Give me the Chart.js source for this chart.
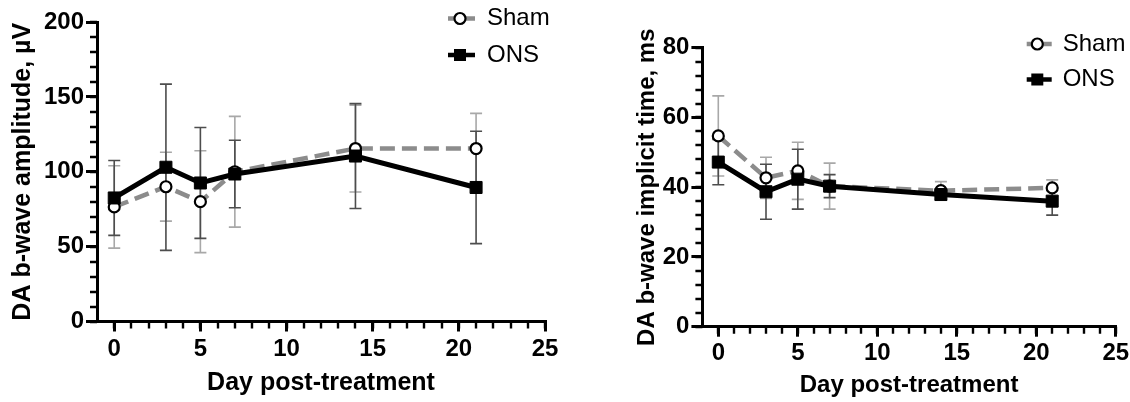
<!DOCTYPE html>
<html>
<head>
<meta charset="utf-8">
<script src="https://cdn.jsdelivr.net/npm/chart.js"></script>
<style>
    html, body { margin: 0; padding: 0; background: #fff; overflow: hidden; }
    #leftWrap { position: absolute; left: 0; top: 0; width: 565px; height: 402px; }
    #rightWrap { position: absolute; left: 565px; top: 0; width: 575px; height: 402px; }
</style>
</head>
<body>
<div id="leftWrap"><canvas id="ampChart" width="565" height="402"></canvas></div>
<div id="rightWrap"><canvas id="timeChart" width="575" height="402"></canvas></div>
<script>
// Days after treatment
const days = [0, 3, 5, 7, 14, 21];
const dayTicks = [0, 5, 10, 15, 20, 25];

// DA b-wave amplitude (uV), mean and SD
const ampSham = [76.5, 90, 80, 100, 115.5, 115.5];
const ampShamErr = [27.5, 23, 34, 37, 29, 23.5];
const ampOns = [82.5, 103, 92.5, 98.5, 110.5, 89.5];
const ampOnsErr = [25, 55.5, 37, 22.5, 35, 37.5];
const ampTicks = [0, 50, 100, 150, 200];

// DA b-wave implicit time (ms), mean and SD
const timeSham = [54.7, 42.7, 44.7, 40.3, 39.0, 39.8];
const timeShamErr = [11.5, 5.9, 8.2, 6.6, 2.6, 2.3];
const timeOns = [47.2, 38.7, 42.3, 40.3, 37.9, 36.0];
const timeOnsErr = [6.5, 7.9, 8.6, 3.3, 1.5, 4.0];
const timeTicks = [0, 20, 40, 60, 80];

const fontFamily = '"Liberation Sans", Arial, Helvetica, sans-serif';
const shamGray = '#8c8c8c';

function toPoints(values) {
    return days.map((d, i) => ({ x: d, y: values[i] }));
}

// Error bars drawn under the lines
const errorBars = {
    id: 'errorBars',
    beforeDatasetsDraw(chart) {
        const { ctx, scales: { x, y } } = chart;
        ctx.save();
        chart.data.datasets.forEach(ds => {
            ds.data.forEach((pt, i) => {
                const px = x.getPixelForValue(pt.x);
                const top = y.getPixelForValue(pt.y + ds.errors[i]);
                const bot = y.getPixelForValue(pt.y - ds.errors[i]);
                ctx.strokeStyle = ds.errorColor;
                ctx.lineWidth = 1.6;
                ctx.beginPath();
                ctx.moveTo(px, top); ctx.lineTo(px, bot);
                ctx.moveTo(px - 6, top); ctx.lineTo(px + 6, top);
                ctx.moveTo(px - 6, bot); ctx.lineTo(px + 6, bot);
                ctx.stroke();
            });
        });
        ctx.restore();
    }
};

// Small ticks between the labelled ones
const minorTicks = {
    id: 'minorTicks',
    afterDraw(chart, args, opts) {
        const { ctx, scales: { x, y }, chartArea } = chart;
        ctx.save();
        ctx.strokeStyle = '#000';
        ctx.lineWidth = 2.4;
        ctx.beginPath();
        for (let v = 0; v <= x.max + 0.001; v += opts.xStep) {
            const px = Math.round(x.getPixelForValue(v));
            ctx.moveTo(px, chartArea.bottom);
            ctx.lineTo(px, chartArea.bottom + 7);
        }
        for (let v = y.min; v <= y.max + 0.001; v += opts.yStep) {
            const py = Math.round(y.getPixelForValue(v));
            ctx.moveTo(chartArea.left, py);
            ctx.lineTo(chartArea.left - 7, py);
        }
        ctx.stroke();
        ctx.restore();
    }
};

// Legend in the upper right corner
const cornerLegend = {
    id: 'cornerLegend',
    afterDraw(chart, args, opts) {
        const { ctx } = chart;
        ctx.save();
        chart.data.datasets.forEach((ds, i) => {
            const yy = opts.rows[i];
            ctx.strokeStyle = ds.borderColor;
            ctx.lineWidth = 4.5;
            ctx.beginPath();
            ctx.moveTo(opts.x1, yy);
            ctx.lineTo(opts.x2, yy);
            ctx.stroke();
            const cx = opts.mx;
            if (ds.pointStyle === 'circle') {
                ctx.fillStyle = '#fff';
                ctx.strokeStyle = '#000';
                ctx.lineWidth = 2.2;
                ctx.beginPath();
                ctx.arc(cx, yy, 5.5, 0, Math.PI * 2);
                ctx.fill();
                ctx.stroke();
            } else {
                ctx.fillStyle = '#000';
                ctx.fillRect(cx - 6, yy - 6, 12, 12);
            }
            ctx.fillStyle = '#000';
            ctx.font = '24px ' + fontFamily;
            ctx.textBaseline = 'middle';
            ctx.textAlign = 'left';
            ctx.fillText(ds.label, opts.textX, yy);
        });
        ctx.restore();
    }
};

function makeChart(canvasId, cfg) {
    const ctx = document.getElementById(canvasId).getContext('2d');
    return new Chart(ctx, {
        type: 'line',
        data: {
            datasets: [{
                label: 'Sham',
                data: toPoints(cfg.sham),
                errors: cfg.shamErr,
                errorColor: '#a8a8a8',
                borderColor: shamGray,
                borderWidth: 4.5,
                borderDash: [15, 7],
                pointStyle: 'circle',
                pointRadius: 5.5,
                pointBackgroundColor: '#fff',
                pointBorderColor: '#000',
                pointBorderWidth: 2.2,
                tension: 0,
                order: 2
            }, {
                label: 'ONS',
                data: toPoints(cfg.ons),
                errors: cfg.onsErr,
                errorColor: '#4d4d4d',
                borderColor: '#000',
                borderWidth: 5,
                pointStyle: 'rect',
                pointRadius: 8.5,
                pointBackgroundColor: '#000',
                pointBorderColor: '#000',
                pointBorderWidth: 1,
                tension: 0,
                order: 1
            }]
        },
        options: {
            responsive: false,
            animation: false,
            devicePixelRatio: 1,
            layout: { padding: cfg.padding },
            plugins: {
                legend: { display: false },
                tooltip: { enabled: false },
                minorTicks: { xStep: 1, yStep: cfg.minorStep },
                cornerLegend: cfg.legend
            },
            scales: {
                x: {
                    type: 'linear',
                    min: -1,
                    max: 25,
                    afterBuildTicks: (scale) => { scale.ticks = dayTicks.map(v => ({ value: v })); },
                    afterFit: (scale) => { scale.height = cfg.xHeight; },
                    border: { display: true, color: '#000', width: 3 },
                    grid: { drawOnChartArea: false, drawTicks: true, tickLength: 10, color: '#000', lineWidth: 3 },
                    ticks: { color: '#000', padding: cfg.xTickPad, maxRotation: 0, font: { family: fontFamily, size: 24, weight: 'bold' } },
                    title: {
                        display: true,
                        text: 'Day post-treatment',
                        color: '#000',
                        padding: { top: 0, bottom: cfg.xTitlePad },
                        font: { family: fontFamily, size: cfg.titleSize, weight: 'bold' }
                    }
                },
                y: {
                    type: 'linear',
                    min: 0,
                    max: cfg.yTicks[cfg.yTicks.length - 1],
                    afterBuildTicks: (scale) => { scale.ticks = cfg.yTicks.map(v => ({ value: v })); },
                    afterFit: (scale) => { scale.width = cfg.yWidth; },
                    border: { display: true, color: '#000', width: 3 },
                    grid: { drawOnChartArea: false, drawTicks: true, tickLength: 11, color: '#000', lineWidth: 3 },
                    ticks: { color: '#000', padding: 2, font: { family: fontFamily, size: 24, weight: 'bold' } },
                    title: {
                        display: true,
                        text: cfg.yTitle,
                        color: '#000',
                        padding: { top: cfg.yTitlePad, bottom: 0 },
                        font: { family: fontFamily, size: cfg.titleSize, weight: 'bold' }
                    }
                }
            }
        },
        plugins: [errorBars, minorTicks, cornerLegend]
    });
}

makeChart('ampChart', {
    sham: ampSham, shamErr: ampShamErr,
    ons: ampOns, onsErr: ampOnsErr,
    yTicks: ampTicks,
    minorStep: 10,
    yTitle: 'DA b-wave amplitude, µV',
    titleSize: 25,
    padding: { left: 0, top: 22, right: 20, bottom: 0 },
    yWidth: 97,
    xHeight: 80.5,
    xTickPad: 3,
    xTitlePad: 4,
    yTitlePad: 8,
    legend: { x1: 448, x2: 475, mx: 460, textX: 487, rows: [18.5, 55] }
});

makeChart('timeChart', {
    sham: timeSham, shamErr: timeShamErr,
    ons: timeOns, onsErr: timeOnsErr,
    yTicks: timeTicks,
    minorStep: 4,
    yTitle: 'DA b-wave implicit time, ms',
    titleSize: 24,
    padding: { left: 0, top: 47.7, right: 24.2, bottom: 0 },
    yWidth: 137.4,
    xHeight: 75.3,
    xTickPad: 2,
    xTitlePad: 2.5,
    yTitlePad: 67.5,
    legend: { x1: 461.7, x2: 486.7, mx: 472.3, textX: 497.7, rows: [44, 79.5] }
});
</script>
</body>
</html>
